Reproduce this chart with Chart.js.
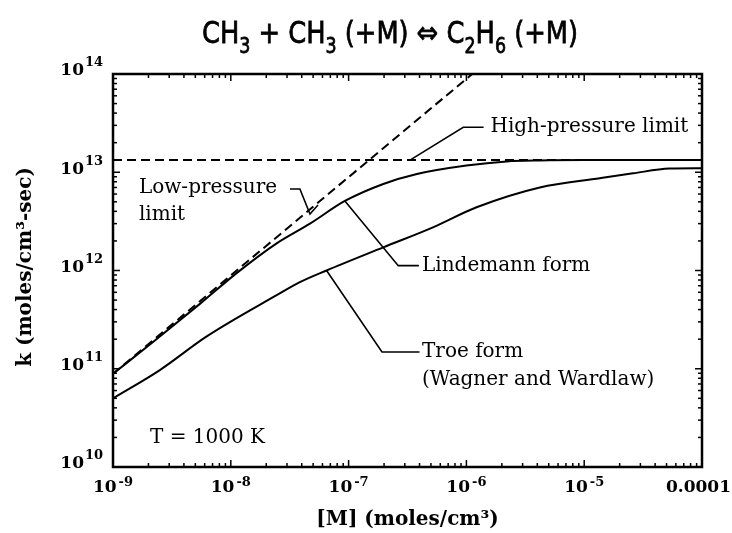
<!DOCTYPE html>
<html>
<head>
<meta charset="utf-8">
<script src="https://cdn.jsdelivr.net/npm/chart.js@4.4.1/dist/chart.umd.min.js"></script>
<style>
  html, body { margin: 0; padding: 0; background: #fff; }
  canvas { display: block; }
</style>
</head>
<body>
<canvas id="kChart" width="732" height="533"></canvas>
<script>
// values, [M] in moles/cm3, k in moles/cm3-sec
const lindemannM = [1e-9, 2.2e-9, 5.5e-9, 1.12e-8, 2.45e-8, 4.7e-8, 9.3e-8, 1.97e-7, 3.8e-7, 1e-6, 2.2e-6, 4.2e-6, 1e-5, 1e-4];
const lindemannK = [8.9e10, 1.88e11, 4.6e11, 9.4e11, 1.89e12, 3.0e12, 5.1e12, 7.6e12, 9.6e12, 1.17e13, 1.29e13, 1.32e13, 1.33e13, 1.33e13];

const troeM = [1e-9, 2.5e-9, 6.2e-9, 2.45e-8, 3.86e-8, 6.5e-8, 1.97e-7, 5.2e-7, 1.22e-6, 4.2e-6, 1.36e-5, 2.6e-5, 5.3e-5, 1e-4];
const troeK = [5.0e10, 9.7e10, 2.12e11, 5.6e11, 7.6e11, 1.0e12, 1.72e12, 2.75e12, 4.4e12, 7.0e12, 8.7e12, 9.75e12, 1.09e13, 1.10e13];

const lowLimitM = [1e-9, 1.12e-6];
const lowLimitK = [8.9e10, 1e14];

const highLimitM = [1e-9, 1e-4];
const highLimitK = [1.33e13, 1.33e13];

// tick labels
const xTickValues = [1e-9, 1e-8, 1e-7, 1e-6, 1e-5, 1e-4];
const xTickBase = ['10', '10', '10', '10', '10', '0.0001'];
const xTickExp = ['-9', '-8', '-7', '-6', '-5', ''];
const yTickValues = [1e10, 1e11, 1e12, 1e13, 1e14];
const yTickExp = ['10', '11', '12', '13', '14'];

// callouts, anchored in data space
const leaders = [
    [[3.32e-7, 1.33e13], [9.4e-7, 2.87e13], [1.4e-6, 2.87e13]],
    [[3.18e-8, 6.76e12], [3.86e-8, 6.76e12], [4.7e-8, 3.76e12], [5.5e-8, 4.64e12]],
    [[9.3e-8, 5.1e12], [2.64e-7, 1.12e12], [3.95e-7, 1.12e12]],
    [[6.5e-8, 1.0e12], [1.92e-7, 1.48e11], [4.0e-7, 1.48e11]]
];
const notes = [
    ['High-pressure limit', 1.6e-6, 2.87e13],
    ['Low-pressure', 1.66e-9, 6.9e12],
    ['limit', 1.66e-9, 3.67e12],
    ['Lindemann form', 4.2e-7, 1.12e12],
    ['Troe form', 4.2e-7, 1.48e11],
    ['(Wagner and Wardlaw)', 4.2e-7, 7.7e10],
    ['T = 1000 K', 2.06e-9, 1.97e10]
];

const pairs = (xs, ys) => xs.map((v, i) => ({ x: v, y: ys[i] }));

const SERIF = '"DejaVu Serif", serif';
const SANS = '"DejaVu Sans", sans-serif';

const decorations = {
    id: 'decorations',
    afterDatasetsDraw(chart) {
        const { ctx, chartArea: a, scales: { x, y } } = chart;
        const seg = (x1, y1, x2, y2) => { ctx.beginPath(); ctx.moveTo(x1, y1); ctx.lineTo(x2, y2); ctx.stroke(); };
        ctx.save();
        ctx.strokeStyle = '#000';
        ctx.fillStyle = '#000';

        // inward ticks on all four sides
        ctx.lineWidth = 1.5;
        for (let e = -9; e <= -4; e++) {
            for (let d = 1; d <= 9; d++) {
                if (e === -4 && d > 1) break;
                const px = x.getPixelForValue(d * Math.pow(10, e));
                const len = d === 1 ? 7 : 4;
                seg(px, a.bottom, px, a.bottom - len);
                seg(px, a.top, px, a.top + len);
            }
        }
        for (let e = 10; e <= 14; e++) {
            for (let d = 1; d <= 9; d++) {
                if (e === 14 && d > 1) break;
                const py = y.getPixelForValue(d * Math.pow(10, e));
                const len = d === 1 ? 7 : 4;
                seg(a.left, py, a.left + len, py);
                seg(a.right, py, a.right - len, py);
            }
        }

        // frame
        ctx.lineWidth = 2.5;
        ctx.strokeRect(a.left, a.top, a.right - a.left, a.bottom - a.top);

        // leader lines
        ctx.lineWidth = 1.6;
        leaders.forEach(pts => {
            ctx.beginPath();
            pts.forEach(([m, k], i) => {
                const px = x.getPixelForValue(m), py = y.getPixelForValue(k);
                if (i === 0) ctx.moveTo(px, py); else ctx.lineTo(px, py);
            });
            ctx.stroke();
        });

        // notes
        ctx.font = '20px ' + SERIF;
        ctx.textBaseline = 'middle';
        ctx.textAlign = 'left';
        notes.forEach(([t, m, k]) => ctx.fillText(t, x.getPixelForValue(m), y.getPixelForValue(k)));

        // y tick labels: 10 with raised exponent
        yTickValues.forEach((v, i) => {
            const py = y.getPixelForValue(v);
            ctx.textAlign = 'right';
            ctx.font = 'bold 17px ' + SERIF;
            ctx.fillText('10', a.left - 29, py - 3);
            ctx.textAlign = 'left';
            ctx.font = 'bold 13px ' + SERIF;
            ctx.fillText(yTickExp[i], a.left - 28, py - 11);
        });

        // x tick labels
        xTickValues.forEach((v, i) => {
            const px = x.getPixelForValue(v);
            ctx.font = 'bold 17px ' + SERIF;
            const wb = ctx.measureText(xTickBase[i]).width;
            ctx.font = 'bold 13px ' + SERIF;
            const we = xTickExp[i] ? ctx.measureText(xTickExp[i]).width + 2 : 0;
            const x0 = Math.min(px - (wb + we) / 2, chart.width - 1 - wb - we);
            ctx.textAlign = 'left';
            ctx.font = 'bold 17px ' + SERIF;
            ctx.fillText(xTickBase[i], x0, a.bottom + 21);
            if (xTickExp[i]) {
                ctx.font = 'bold 13px ' + SERIF;
                ctx.fillText(xTickExp[i], x0 + wb + 2, a.bottom + 16);
            }
        });

        // axis titles
        ctx.font = 'bold 20px ' + SERIF;
        ctx.textAlign = 'center';
        ctx.fillText('[M] (moles/cm\u00B3)', (a.left + a.right) / 2, a.bottom + 53);
        ctx.save();
        ctx.translate(26, 267);
        ctx.rotate(-Math.PI / 2);
        ctx.fillText('k (moles/cm\u00B3-sec)', 0, 0);
        ctx.restore();

        // title with subscripts, squeezed to the original's narrow face
        const parts = [['CH', 0], ['3', 1], [' + CH', 0], ['3', 1], [' (+M) \u21D4 C', 0], ['2', 1], ['H', 0], ['6', 1], [' (+M)', 0]];
        const bigFont = '31px ' + SANS;
        const subFont = '21px ' + SANS;
        let total = 0;
        parts.forEach(([t, s]) => { ctx.font = s ? subFont : bigFont; total += ctx.measureText(t).width; });
        const sx = 376 / total;
        ctx.save();
        ctx.translate(202, 0);
        ctx.scale(sx, 1);
        let tx = 0;
        ctx.textAlign = 'left';
        ctx.textBaseline = 'alphabetic';
        ctx.strokeStyle = '#000';
        ctx.lineWidth = 0.8;
        parts.forEach(([t, s]) => {
            ctx.font = s ? subFont : bigFont;
            const ty = s ? 53 : 43;
            ctx.fillText(t, tx, ty);
            ctx.strokeText(t, tx, ty);
            tx += ctx.measureText(t).width;
        });
        ctx.restore();
        ctx.restore();
    }
};

new Chart(document.getElementById('kChart').getContext('2d'), {
    type: 'line',
    data: {
        datasets: [
            { label: 'Lindemann form', data: pairs(lindemannM, lindemannK), borderColor: '#000', borderWidth: 2, pointRadius: 0, cubicInterpolationMode: 'monotone' },
            { label: 'Troe form', data: pairs(troeM, troeK), borderColor: '#000', borderWidth: 2, pointRadius: 0, cubicInterpolationMode: 'monotone' },
            { label: 'High-pressure limit', data: pairs(highLimitM, highLimitK), borderColor: '#000', borderWidth: 2, borderDash: [9, 5], pointRadius: 0 },
            { label: 'Low-pressure limit', data: pairs(lowLimitM, lowLimitK), borderColor: '#000', borderWidth: 2, borderDash: [9, 5], pointRadius: 0 }
        ]
    },
    options: {
        responsive: false,
        animation: false,
        devicePixelRatio: 1,
        layout: { padding: { left: 113, right: 30, top: 74, bottom: 66 } },
        plugins: { legend: { display: false }, tooltip: { enabled: false } },
        scales: {
            x: { type: 'logarithmic', min: 1e-9, max: 1e-4, display: false },
            y: { type: 'logarithmic', min: 1e10, max: 1e14, display: false }
        }
    },
    plugins: [decorations]
});
</script>
</body>
</html>
